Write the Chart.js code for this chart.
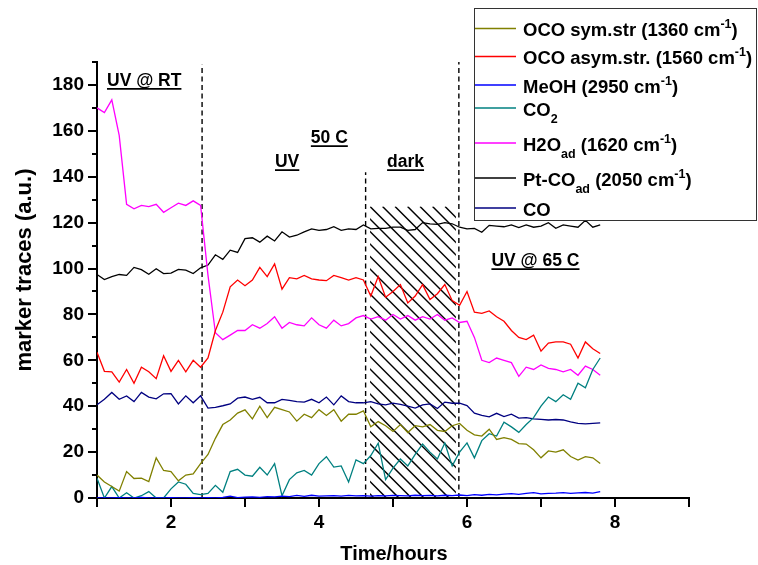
<!DOCTYPE html>
<html>
<head>
<meta charset="utf-8">
<title>marker traces</title>
<script src="https://cdn.jsdelivr.net/npm/chart.js@4.4.0/dist/chart.umd.min.js"></script>
<style>
  body { margin: 0; background: #fff; }
  #wrap { width: 758px; height: 565px; }
</style>
</head>
<body>
<div id="wrap"><canvas id="traceChart" width="758" height="565"></canvas></div>
<script>
// sample times (hours)
const timeHours = [
  1.0, 1.1, 1.2, 1.3, 1.4, 1.5, 1.6, 1.7, 1.8, 1.9,
  2.0, 2.1, 2.2, 2.3, 2.4, 2.5, 2.6, 2.7, 2.8, 2.9,
  3.0, 3.1, 3.2, 3.3, 3.4, 3.5, 3.6, 3.7, 3.8, 3.9,
  4.0, 4.1, 4.2, 4.3, 4.4, 4.5, 4.6, 4.7, 4.8, 4.9,
  5.0, 5.1, 5.2, 5.3, 5.4, 5.5, 5.6, 5.7, 5.8, 5.9,
  6.0, 6.1, 6.2, 6.3, 6.4, 6.5, 6.6, 6.7, 6.8, 6.9,
  7.0, 7.1, 7.2, 7.3, 7.4, 7.5, 7.6, 7.7, 7.8
];

const ocoSym = [
  10, 7, 5, 3, 11.5, 8.5, 8.7, 7.2, 17.5, 12,
  11.5, 7.5, 10, 10.5, 15, 19, 26, 32, 34, 37,
  38.4, 34.5, 40, 35, 39.5, 38.5, 37.5, 33.5, 36.5, 35,
  38.5, 36, 38.5, 33.5, 36.5, 36.5, 38, 31, 33.3, 31.5,
  29, 32, 28.5, 31.5, 31, 32, 29.5, 29, 31.5, 32.5,
  29.5, 27.5, 27, 30, 25.5, 26.3, 25.5, 23.7, 23.5, 21,
  17.5, 20.5, 20, 21, 18.1, 16.5, 18, 17.5, 15
];

const ocoAsym = [
  63.5, 55.2, 55, 50.5, 56, 50, 57, 55, 52, 62,
  55.2, 60, 55, 60, 57, 61, 73, 81, 92, 95,
  92.5, 95, 100.5, 96.5, 102, 91, 96, 95.5, 97, 95.5,
  95, 94.7, 97, 96, 95, 96, 95, 88, 96.5, 87.5,
  90, 93, 85, 88, 93, 86.5, 89, 93, 86, 84,
  90, 81, 80.5, 81.5, 79, 77, 73, 70, 69, 71,
  64, 67.5, 68, 68, 67, 61, 68, 65, 63
];

const meoh = [
  0, 0, 0, 0.2, 0, 0, 0.3, 0, 0, 0,
  0.2, 0, 0, 0.1, 0, 0.2, 0, 0.3, 0.8, 0.2,
  0.4, 0.5, 0.3, 0.6, 0.5, 0.8, 0.6, 1.1, 0.7, 1.2,
  0.8, 0.9, 1.0, 0.8, 1.1, 0.9, 1.0, 0.8, 1.0, 0.9,
  1.1, 1.0, 0.9, 1.2, 1.0, 1.1, 0.9, 1.2, 1.0, 1.3,
  1.0, 1.5, 1.2, 1.6, 1.4, 1.7, 1.9, 1.6, 2.0, 2.3,
  1.8, 2.0, 2.1, 2.3, 2.0, 2.2, 2.4, 2.1, 2.8
];

const co2 = [
  8.6, 0, 5, 0, 2.3, 0, 1, 2.8, 0, 0,
  4, 7, 6, 2, 1.5, 2, 5.5, 2.5, 11.5, 12.5,
  10, 9.5, 13.4, 10, 15, 1, 8, 11, 12, 10,
  15, 18, 13.5, 14, 7, 16.6, 15, 18.5, 23.9, 8,
  13, 17, 14, 19, 23.5, 20, 17, 24, 14, 20,
  24, 17.5, 25, 28, 27, 33, 31, 28.6, 32, 35,
  40, 44, 42, 45, 43, 50, 48, 56, 61
];

const h2oAd = [
  170, 168, 173.5, 158, 128, 126, 127.5, 127, 128, 124.5,
  126.5, 128.5, 127.5, 129.5, 127.5, 97, 72, 69, 71, 73,
  73, 75.5, 74, 76, 79, 74, 76.5, 75.5, 75, 78.5,
  75.5, 74, 77.5, 75, 76, 78.5, 79.5, 78, 79, 77.5,
  80, 78, 79.5, 77.5, 79, 78, 80, 77.5, 78.5, 76.5,
  77, 70, 60, 59, 61, 60, 59, 53, 57, 56,
  58, 56.5, 56, 55, 56, 53.5, 57.5, 56, 53.5
];

const ptCoAd = [
  97.4, 95.2, 96.5, 97.4, 97, 100.5, 99.5, 97.5, 99.9, 97.8,
  98, 99.6, 99.3, 97.8, 100.3, 101.5, 106, 104, 108, 107,
  113, 113.4, 111.5, 114.1, 112, 116, 113.7, 114.5, 116, 117.3,
  116.6, 117, 118.2, 116.6, 117.3, 117, 119, 117.3, 117.5, 117.5,
  118, 118, 116.6, 117, 120, 119.5, 119.2, 120, 119.5, 118,
  117.3, 117.5, 115.8, 118.8, 118.5, 118.2, 119, 117.8, 119, 118,
  118.5, 120, 117.5, 119, 118.5, 118, 121, 118, 119
];

const co = [
  40.6, 43, 46, 43, 44.5, 42, 46, 44, 43.2, 45.4,
  45.5, 41, 44.5, 41.5, 44.5, 39.2, 39.5, 40.2, 41, 43.5,
  44, 43, 43.9, 41.5, 41.5, 43, 42.5, 42, 41.8, 43,
  41.5, 44, 40.6, 44.5, 42, 41.5, 41.5, 42, 41, 40.6,
  41.3, 40.8, 40, 39.2, 40.6, 41, 39, 41.8, 41.3, 41.3,
  40.3, 37, 36, 35.4, 36.9, 35.5, 36.5, 34.8, 35, 34.5,
  34.3, 34, 34.2, 34, 33.2, 32.5, 32.3, 32.5, 32.7
];

// legend names (^{..} = superscript, _{..} = subscript)
const seriesNames = [
  'OCO sym.str (1360 cm^{-1})',
  'OCO asym.str. (1560 cm^{-1})',
  'MeOH (2950 cm^{-1})',
  'CO_{2}',
  'H2O_{ad} (1620 cm^{-1})',
  'Pt-CO_{ad} (2050 cm^{-1})',
  'CO'
];
const seriesValues = [ocoSym, ocoAsym, meoh, co2, h2oAd, ptCoAd, co];
const seriesColors = ['#808000', '#ff0000', '#0000ff', '#008080', '#ff00ff', '#000000', '#000080'];

// dashed phase dividers and the dark period
const dividerX = [2.42, 4.63, 5.89];
const dividerTop = [189, 142, 190];
const darkRange = [4.69, 5.85];
const darkTop = 127;

// phase notes, anchored at left/baseline in data units
const noteText = ['UV @ RT', '50 C', 'UV', 'dark', 'UV @ 65 C'];
const noteX = [1.135, 3.89, 3.405, 4.92, 6.33];
const noteY = [179.5, 154.6, 144.1, 144.1, 101];

const FONT = '"Liberation Sans", Arial, Helvetica, sans-serif';

function richParts(str) {
  return str.split(/(\^\{[^}]*\}|_\{[^}]*\})/).filter(s => s).map(s => {
    if (s.startsWith('^{')) return { t: s.slice(2, -1), kind: 'sup' };
    if (s.startsWith('_{')) return { t: s.slice(2, -1), kind: 'sub' };
    return { t: s, kind: 'main' };
  });
}

function drawRich(ctx, str, x, y) {
  richParts(str).forEach(p => {
    let dy = 0;
    if (p.kind === 'main') {
      ctx.font = 'bold 18.5px ' + FONT;
    } else {
      ctx.font = 'bold 12.5px ' + FONT;
      dy = p.kind === 'sup' ? -8 : 7;
    }
    ctx.fillText(p.t, x, y + dy);
    x += ctx.measureText(p.t).width;
  });
}

const extras = {
  id: 'extras',
  beforeDatasetsDraw(chart) {
    const ctx = chart.ctx, xs = chart.scales.x, ys = chart.scales.y;
    const l = xs.getPixelForValue(darkRange[0]);
    const r = xs.getPixelForValue(darkRange[1]);
    const t = ys.getPixelForValue(darkTop);
    const b = ys.getPixelForValue(0);
    const h = b - t, gap = 12.5;
    ctx.save();
    ctx.beginPath();
    ctx.rect(l, t, r - l, h);
    ctx.clip();
    ctx.strokeStyle = '#000';
    ctx.lineWidth = 1.5;
    ctx.beginPath();
    for (let s = l - Math.ceil(h / gap) * gap; s < r; s += gap) {
      ctx.moveTo(s, t);
      ctx.lineTo(s + h, b);
    }
    ctx.stroke();
    ctx.restore();
  },
  afterDraw(chart) {
    const ctx = chart.ctx, xs = chart.scales.x, ys = chart.scales.y;
    const area = chart.chartArea;
    ctx.save();

    // tick marks
    ctx.strokeStyle = '#000';
    ctx.lineWidth = 2;
    ctx.beginPath();
    ys.ticks.forEach(tk => {
      const py = Math.round(ys.getPixelForValue(tk.value));
      const len = tk.value % 20 === 0 ? 9 : 5;
      ctx.moveTo(area.left - len, py);
      ctx.lineTo(area.left, py);
    });
    xs.ticks.forEach(tk => {
      const px = Math.round(xs.getPixelForValue(tk.value));
      ctx.moveTo(px, area.bottom);
      ctx.lineTo(px, area.bottom + 9);
    });
    ctx.stroke();

    // axis titles
    ctx.fillStyle = '#000';
    ctx.font = 'bold 20px ' + FONT;
    ctx.textAlign = 'center';
    ctx.textBaseline = 'alphabetic';
    ctx.fillText('Time/hours', 394, 560);
    ctx.save();
    ctx.translate(31, 270);
    ctx.rotate(-Math.PI / 2);
    ctx.font = 'bold 22px ' + FONT;
    ctx.fillText('marker traces (a.u.)', 0, 0);
    ctx.restore();

    // phase notes, underlined
    ctx.textAlign = 'left';
    ctx.font = 'bold 17.5px ' + FONT;
    ctx.lineWidth = 1.8;
    noteText.forEach((txt, i) => {
      const px = xs.getPixelForValue(noteX[i]);
      const py = ys.getPixelForValue(noteY[i]);
      ctx.fillText(txt, px, py);
      const w = ctx.measureText(txt).width;
      ctx.beginPath();
      ctx.moveTo(px, py + 2.8);
      ctx.lineTo(px + w, py + 2.8);
      ctx.stroke();
    });

    // legend box
    const rowY = [28.5, 56.5, 85, 108, 143, 178, 208];
    ctx.fillStyle = '#fff';
    ctx.fillRect(474.5, 8.5, 282, 212);
    ctx.strokeStyle = '#333';
    ctx.lineWidth = 1;
    ctx.strokeRect(474.5, 8.5, 282, 212);
    seriesNames.forEach((name, i) => {
      ctx.strokeStyle = seriesColors[i];
      ctx.lineWidth = 1.5;
      ctx.beginPath();
      ctx.moveTo(475, rowY[i]);
      ctx.lineTo(516, rowY[i]);
      ctx.stroke();
      ctx.fillStyle = '#000';
      drawRich(ctx, name, 523, rowY[i] + 7.5);
    });
    ctx.restore();
  }
};

const datasets = seriesValues.map((vals, i) => ({
  label: seriesNames[i],
  data: timeHours.map((t, k) => ({ x: t, y: vals[k] })),
  borderColor: seriesColors[i],
  borderWidth: 1.3,
  pointRadius: 0,
  tension: 0
}));

dividerX.forEach((dx, i) => {
  datasets.push({
    label: 'divider',
    data: [{ x: dx, y: 0 }, { x: dx, y: dividerTop[i] }],
    borderColor: '#000',
    borderWidth: 1.4,
    borderDash: [5, 3.5],
    pointRadius: 0
  });
});

const ctx = document.getElementById('traceChart').getContext('2d');
const traceChart = new Chart(ctx, {
  type: 'line',
  data: { datasets: datasets },
  options: {
    responsive: false,
    animation: false,
    devicePixelRatio: 1,
    layout: { padding: { top: 62, right: 69, left: 0, bottom: 0 } },
    plugins: {
      legend: { display: false },
      tooltip: { enabled: false }
    },
    scales: {
      x: {
        type: 'linear',
        min: 1,
        max: 9,
        grid: { display: false, drawTicks: false },
        border: { display: true, color: '#000', width: 2 },
        ticks: {
          stepSize: 1,
          autoSkip: false,
          maxRotation: 0,
          padding: 13,
          color: '#000',
          font: { family: FONT, size: 19, weight: 'bold' },
          callback: v => (v % 2 === 0 ? v : '')
        },
        afterFit: s => { s.height = 67; }
      },
      y: {
        min: 0,
        max: 190,
        grid: { display: false, drawTicks: false },
        border: { display: true, color: '#000', width: 2 },
        ticks: {
          stepSize: 10,
          autoSkip: false,
          padding: 13,
          color: '#000',
          font: { family: FONT, size: 19, weight: 'bold' },
          callback: v => (v % 20 === 0 ? v : '')
        },
        afterFit: s => { s.width = 97; }
      }
    }
  },
  plugins: [extras]
});
</script>
</body>
</html>
